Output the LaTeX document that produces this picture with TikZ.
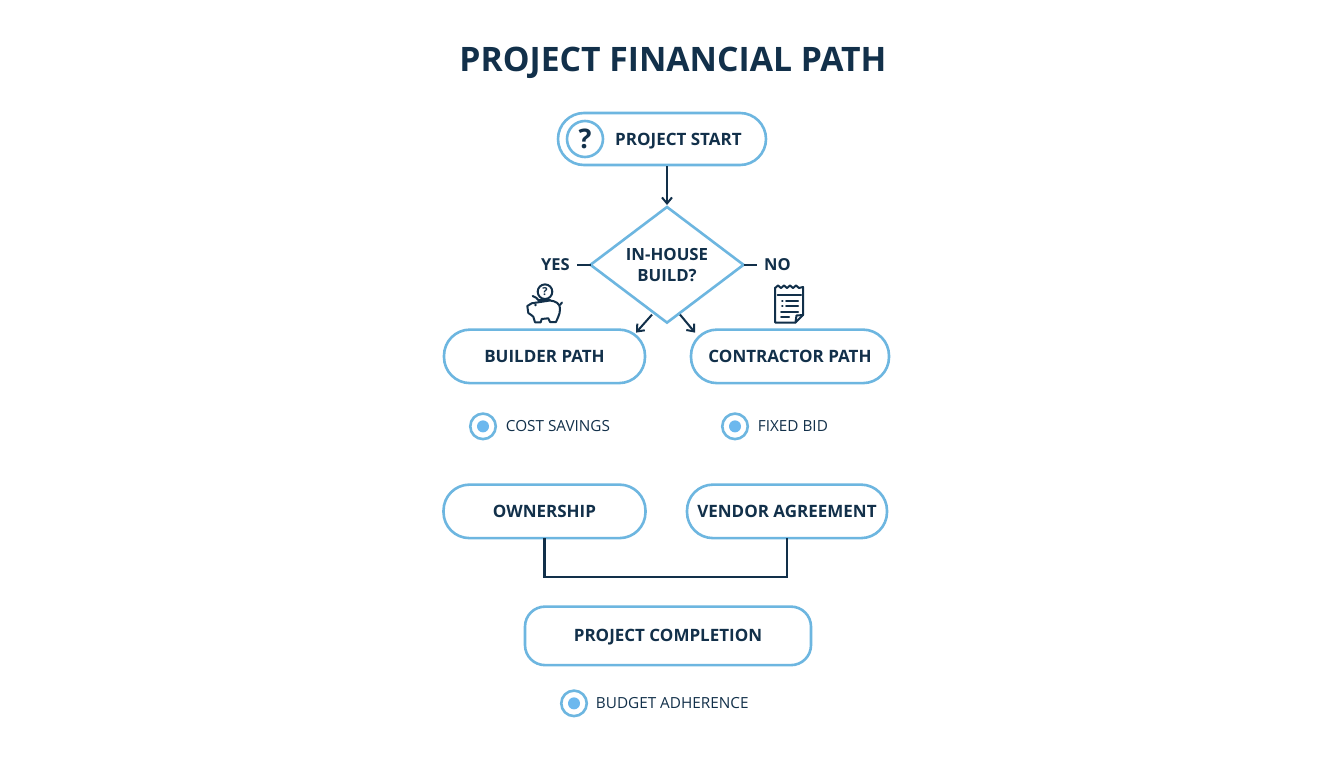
\documentclass[tikz,border=0pt]{standalone}
\usepackage{fontspec}
\setmainfont{Open Sans}
\usetikzlibrary{arrows.meta}
\usetikzlibrary{positioning}
\usetikzlibrary{calc}
\usetikzlibrary{shapes.geometric}
\definecolor{navy}{HTML}{12304A}
\definecolor{sky}{HTML}{6DB6E0}
\definecolor{dot}{HTML}{6CB8EE}
\tikzstyle{pill} = [draw = sky, line width = 2.6pt, rectangle, rounded corners = 26pt, outer sep = 0pt, inner sep = 0pt, minimum height = 53.5pt, text = navy, text height = 12pt, text depth = 0pt, font = \fontsize{17}{20}\selectfont\bfseries]
\tikzstyle{bullet} = [draw = sky, line width = 2.6pt, circle, outer sep = 0pt, inner sep = 0pt, minimum size = 25.5pt]
\tikzstyle{blob} = [fill = dot, circle, inner sep = 0pt, minimum size = 12pt]
\tikzstyle{note} = [text = navy, inner sep = 0pt, text height = 11pt, text depth = 0pt, font = \fontsize{15.3}{18}\selectfont]
\tikzstyle{side} = [text = navy, inner sep = 0pt, text height = 12pt, text depth = 0pt, font = \fontsize{16.5}{20}\selectfont\bfseries]
\tikzstyle{arrow} = [navy, line width = 2pt, -{Straight Barb[length = 6pt, width = 10pt]}]
\tikzstyle{wire} = [navy, line width = 2.2pt]
\tikzstyle{glyph} = [navy, line width = 2pt, line join = round, line cap = round]
\begin{document}
\begin{tikzpicture}[x = 1pt, y = 1pt]
	\useasboundingbox[fill = white] (0,0) rectangle (1344,-768);

	% Heading
	\node[text = navy, inner sep = 0pt, text height = 24pt, text depth = 0pt, font = \fontsize{33.7}{40}\selectfont\bfseries] (heading) at (673,-59) {PROJECT FINANCIAL PATH};

	% Start and decision
	\node[pill, minimum width = 208pt, minimum height = 52pt] (start) at (662,-139) {};
	\node[bullet, minimum size = 36pt, right = 9pt of start.west, text = navy, font = \fontsize{27}{28}\selectfont\bfseries] (ask) {?};
	\node[side, right = 12pt of ask, font = \fontsize{17}{20}\selectfont\bfseries] (starttext) {PROJECT START};
	\node[draw = sky, line width = 2.6pt, diamond, outer sep = 0pt, inner sep = 0pt, minimum width = 153pt, minimum height = 110pt, below = 42pt of start, xshift = 5pt, align = center, text = navy, font = \fontsize{16.8}{21}\selectfont\bfseries] (build) {IN-HOUSE\\BUILD?};
	\node[side, left = 7pt of build.west, xshift = -13.5pt] (yes) {YES};
	\node[side, right = 7pt of build.east, xshift = 13.5pt] (no) {NO};

	% The two paths
	\node[pill, minimum width = 201pt, below = 7pt of build, xshift = -122.5pt] (builder) {BUILDER PATH};
	\node[pill, minimum width = 198pt, below = 7pt of build, xshift = 123pt] (contractor) {CONTRACTOR PATH};
	\node[bullet, below = 30.5pt of builder, xshift = -61.5pt] (savings) {};
	\node[blob] (savingsdot) at (savings) {};
	\node[note, right = 10pt of savings] (savingstext) {COST SAVINGS};
	\node[bullet, below = 30.5pt of contractor, xshift = -55pt] (bid) {};
	\node[blob] (biddot) at (bid) {};
	\node[note, right = 10pt of bid] (bidtext) {FIXED BID};
	\node[pill, minimum width = 202pt, below = 101.5pt of builder] (ownership) {OWNERSHIP};
	\node[pill, minimum width = 200pt, below = 101.5pt of contractor, xshift = -3pt] (vendor) {VENDOR AGREEMENT};

	% The end
	\node[pill, rounded corners = 20pt, minimum width = 286pt, minimum height = 58.5pt, below = 68.5pt of vendor, xshift = -119pt] (finish) {PROJECT COMPLETION};
	\node[bullet, below = 25.5pt of finish, xshift = -94pt] (budget) {};
	\node[blob] (budgetdot) at (budget) {};
	\node[note, right = 9pt of budget] (budgettext) {BUDGET ADHERENCE};

	% Connect all nodes defined above
	\coordinate (leftfoot) at ($(build.south) + (-15,8)$);
	\coordinate (rightfoot) at ($(build.south) + (13,8)$);
	\coordinate (leftend) at ($(builder.north east) + (-9,-3)$);
	\coordinate (rightend) at ($(contractor.north west) + (4,-3)$);
	\draw[arrow, shorten > = 2pt, shorten < = 1pt] (build.north |- start.south) -- (build.north);
	\draw[arrow] (leftfoot) -- (leftend);
	\draw[arrow] (rightfoot) -- (rightend);
	\draw[wire] (yes.east) ++(7,0) -- (build.west);
	\draw[wire] (build.east) -- ++(13,0);
	\draw[wire] (ownership.south) -- ++(0,-39) -| (vendor.south);

	% Piggy bank
	\begin{scope}[shift = {(545,-310)}]
		\draw[glyph] (-12.3,14) .. controls (-9,13) and (-8,11.5) .. (-6.7,10) -- (-1,9.5) (5,9.5) .. controls (11,9) and (15,6) .. (15,1.7) .. controls (15,-2) and (14.5,-4) .. (13.3,-6.7) -- (11,-12) -- (5,-12) -- (3.3,-8.3) -- (-3.3,-9) -- (-4.3,-12.3) -- (-10,-12.3) -- (-11.7,-6.7) .. controls (-13,-5) and (-15,-4.5) .. (-16.7,-3) -- (-17.7,4) -- (-13.3,6.7) -- cycle;
		\draw[glyph] (15,5) -- (17,7.5);
		\draw[glyph] (-5,9.6) -- (5,9.6);
		\fill[navy] (-9.5,5) circle (1.3);
		\draw[glyph] (0,18.3) circle (7.3);
		\node[text = navy, inner sep = 0pt, font = \fontsize{11}{11}\selectfont\bfseries] (coin) at (0,18.3) {?};
	\end{scope}

	% Invoice
	\begin{scope}[shift = {(775,-288)}]
		\draw[glyph] (0,0) -- (3,2.5) -- (6,0) -- (9,2.5) -- (12,0) -- (15,2.5) -- (18,0) -- (21,2.5) -- (24,0) -- (28,1) -- (28,-27) -- (20.5,-34.5) -- (0,-34.5) -- cycle;
		\draw[glyph] (20.5,-34.5) -- (21.5,-27.5) -- (28,-27);
		\draw[glyph] (2.5,-7) -- (26,-7);
		\draw[glyph] (7,-13) -- (7.6,-13) (11,-13) -- (23,-13);
		\draw[glyph] (7,-18) -- (7.6,-18) (11,-18) -- (23,-18);
		\draw[glyph] (6,-24) -- (23,-24);
		\draw[glyph] (6,-29) -- (14,-29);
	\end{scope}
\end{tikzpicture}
\end{document}
